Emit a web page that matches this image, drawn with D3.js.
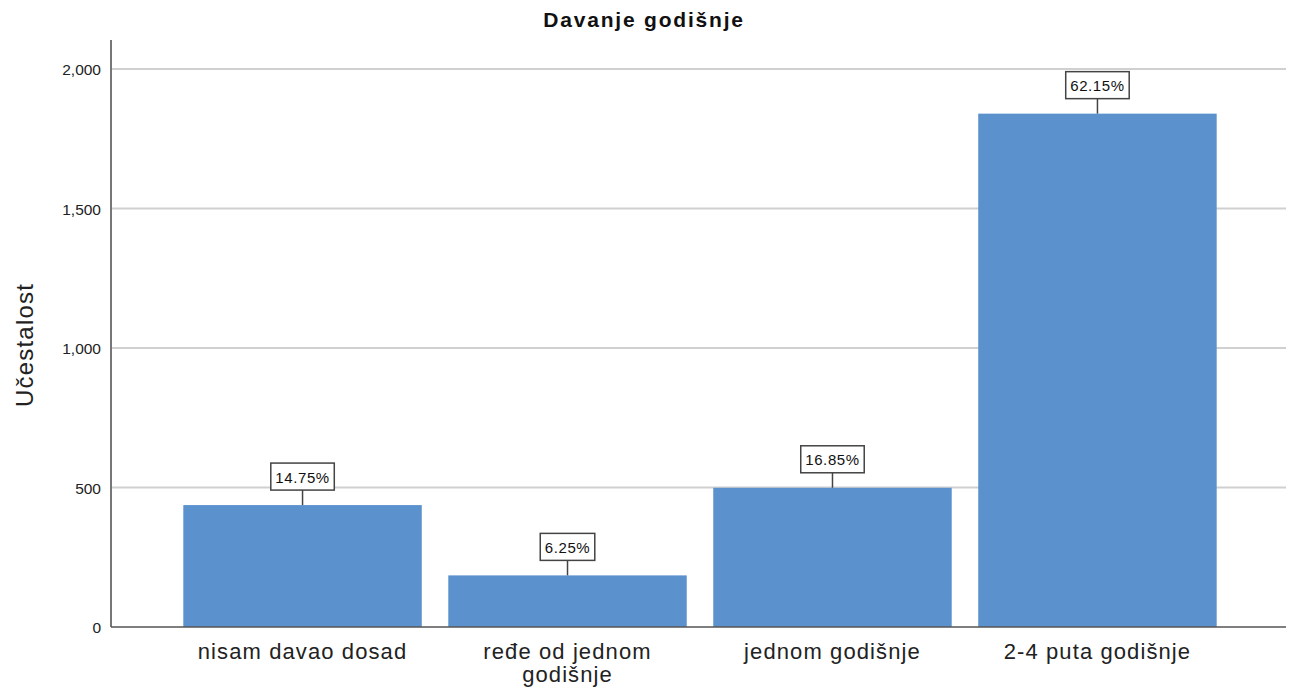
<!DOCTYPE html>
<html><head><meta charset="utf-8">
<script src="https://cdn.jsdelivr.net/npm/d3@7"></script>
<style>body{margin:0;background:#fff}svg{display:block;font-family:"Liberation Sans",Arial,sans-serif}</style>
</head><body>
<svg id="c" width="1289" height="690"></svg>
<script>
const categories = [["nisam davao dosad"], ["ređe od jednom", "godišnje"], ["jednom godišnje"], ["2-4 puta godišnje"]];
const counts = [437, 185, 499, 1840];
const percentLabels = ["14.75%", "6.25%", "16.85%", "62.15%"];
const yTicks = [0, 500, 1000, 1500, 2000];
const title = "Davanje godišnje";
const yTitle = "Učestalost";

(function () {
const svg = d3.select("#c");
const pLeft = 111, pRight = 1286, pTop = 40, pBottom = 627;
const keys = categories.map(c => c.join(" "));
const x = d3.scaleBand().domain(keys).range([116, 1284]).paddingInner(0.1).paddingOuter(0.254);
const y = d3.scaleLinear().domain([0, 2104]).range([pBottom, pTop]);

// gridlines
svg.append("g").selectAll("line").data(yTicks.filter(d => d > 0)).join("line")
  .attr("x1", pLeft).attr("x2", pRight).attr("y1", d => y(d)).attr("y2", d => y(d))
  .attr("stroke", "#d0d0d0").attr("stroke-width", 2);

// bars
svg.append("g").selectAll("rect").data(counts).join("rect")
  .attr("x", (d, i) => x(keys[i])).attr("width", x.bandwidth())
  .attr("y", d => y(d)).attr("height", d => pBottom - y(d))
  .attr("fill", "#5b92cd");

// axes
const yAxis = svg.append("g").attr("transform", `translate(${pLeft},0)`)
  .call(d3.axisLeft(y).tickValues(yTicks).tickFormat(d3.format(",")).tickSize(0).tickPadding(10));
yAxis.select(".domain").remove();
yAxis.selectAll("text").attr("font-size", 15.5).attr("fill", "#222").attr("dy", "0.36em")
  .style("font-family", "Liberation Sans, Arial, sans-serif");
svg.append("line").attr("x1", pLeft).attr("x2", pLeft).attr("y1", pTop).attr("y2", pBottom).attr("stroke", "#777").attr("stroke-width", 2);
svg.append("line").attr("x1", pLeft).attr("x2", pRight).attr("y1", pBottom).attr("y2", pBottom).attr("stroke", "#555").attr("stroke-width", 1.5);

// category labels
const xl = svg.append("g");
categories.forEach((lines, i) => {
  const cx = x(keys[i]) + x.bandwidth() / 2;
  const t = xl.append("text").attr("text-anchor", "middle").attr("font-size", 22).attr("fill", "#222")
    .attr("letter-spacing", 1.1).attr("x", cx).attr("y", 659);
  lines.forEach((ln, j) => t.append("tspan").attr("x", cx).attr("dy", j ? 23 : 0).text(ln));
});

// percentage labels
counts.forEach((d, i) => {
  const cx = x(keys[i]) + x.bandwidth() / 2;
  const g = svg.append("g");
  const by = y(d) - 15;
  const t = g.append("text").attr("x", cx).attr("y", by - 7.5).attr("text-anchor", "middle")
    .attr("font-size", 15).attr("letter-spacing", 0.6).attr("fill", "#111").text(percentLabels[i]);
  const w = t.node().getComputedTextLength() + 9;
  g.insert("rect", "text").attr("x", cx - w / 2).attr("y", by - 27).attr("width", w).attr("height", 27)
    .attr("fill", "#fff").attr("stroke", "#444").attr("stroke-width", 1.5);
  g.append("line").attr("x1", cx).attr("x2", cx).attr("y1", by).attr("y2", y(d)).attr("stroke", "#444").attr("stroke-width", 1.5);
});

svg.append("text").attr("x", 644).attr("y", 27).attr("text-anchor", "middle").attr("font-size", 21)
  .attr("letter-spacing", 1.8).attr("font-weight", "bold").attr("fill", "#111").text(title);
svg.append("text").attr("transform", "translate(33,345) rotate(-90)").attr("text-anchor", "middle")
  .attr("font-size", 24).attr("letter-spacing", 1.2).attr("fill", "#222").text(yTitle);
})();
</script>
</body></html>
